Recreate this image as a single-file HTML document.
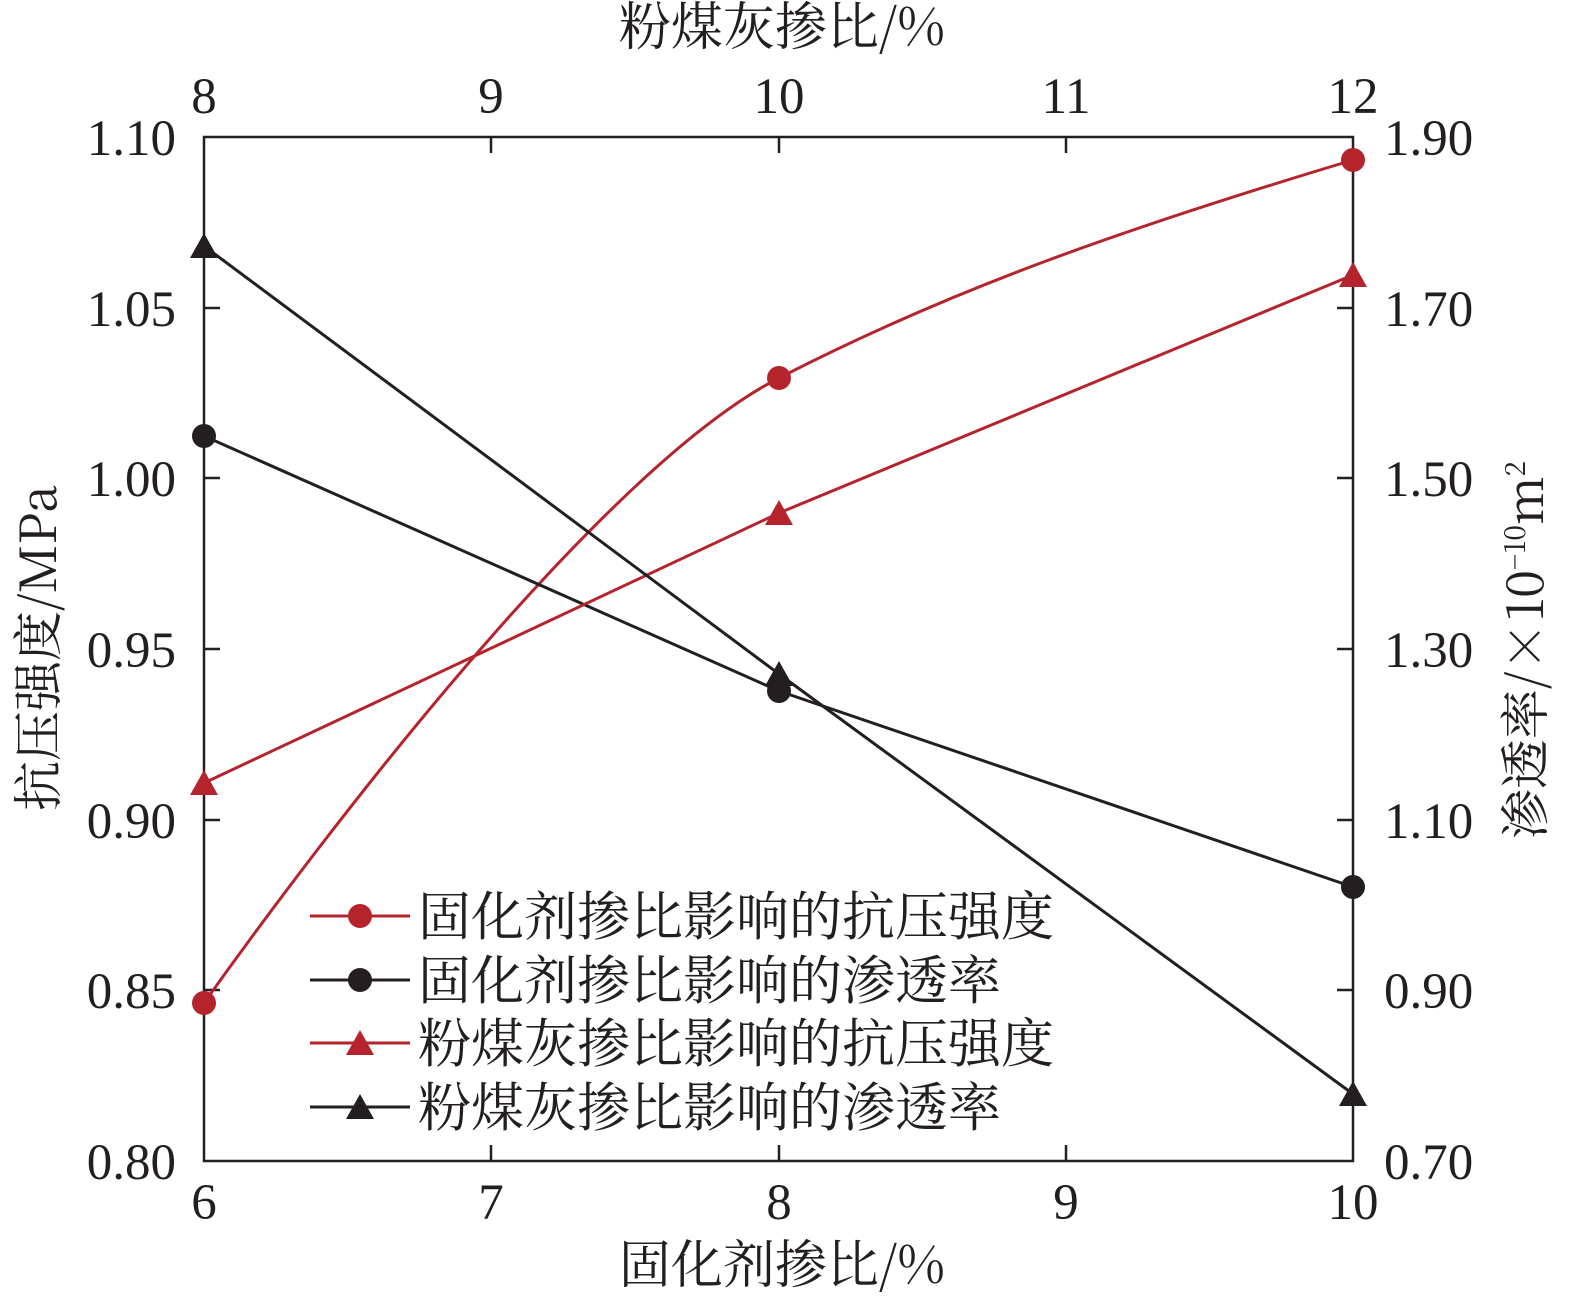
<!DOCTYPE html>
<html><head><meta charset="utf-8"><style>body{margin:0;background:#fff}</style></head>
<body>
<svg width="1575" height="1308" viewBox="0 0 1575 1308" xmlns="http://www.w3.org/2000/svg" font-family="Liberation Serif, Noto Serif CJK SC, serif" font-size="51" fill="#231f20">
<g stroke="#231f20" stroke-width="2.5" fill="none">
<rect x="204" y="137" width="1149" height="1024"/>
<path d="M491,1161v-16M779,1161v-16M1066,1161v-16M491,137v16M779,137v16M1066,137v16"/>
<path d="M204,308h16M204,478h16M204,649h16M204,820h16M204,990h16"/>
<path d="M1353,308h-16M1353,478h-16M1353,649h-16M1353,820h-16M1353,990h-16"/>
</g>
<g text-anchor="middle">
<text x="204" y="1219">6</text><text x="491" y="1219">7</text><text x="779" y="1219">8</text><text x="1066" y="1219">9</text><text x="1353" y="1219">10</text>
<text x="204" y="113">8</text><text x="491" y="113">9</text><text x="779" y="113">10</text><text x="1066" y="113">11</text><text x="1353" y="113">12</text>
<text x="782" y="1283" font-family="Noto Serif CJK SC, serif" font-size="52">固化剂掺比/%</text>
<text x="782" y="45" font-family="Noto Serif CJK SC, serif" font-size="52">粉煤灰掺比/%</text>
</g>
<g text-anchor="end">
<text x="176" y="1179">0.80</text><text x="176" y="1008">0.85</text><text x="176" y="838">0.90</text><text x="176" y="667">0.95</text><text x="176" y="496">1.00</text><text x="176" y="326">1.05</text><text x="176" y="155">1.10</text>
</g>
<g text-anchor="start">
<text x="1384" y="1179">0.70</text><text x="1384" y="1008">0.90</text><text x="1384" y="838">1.10</text><text x="1384" y="667">1.30</text><text x="1384" y="496">1.50</text><text x="1384" y="326">1.70</text><text x="1384" y="155">1.90</text>
</g>
<text transform="translate(56,648) rotate(-90)" text-anchor="middle" font-family="Noto Serif CJK SC, serif" font-size="50">抗压强度/MPa</text>
<text transform="translate(1543,650) rotate(-90)" text-anchor="middle" font-family="Noto Serif CJK SC, serif" font-size="50">渗透率/×10<tspan dy="-18" font-size="28">−10</tspan><tspan dy="18">m</tspan><tspan dy="-18" font-size="28">2</tspan></text>
<g fill="none" stroke-width="3">
<path d="M204,1003 C320,840 600,470 779,378 C950,290 1120,230 1353,160" stroke="#b5242d"/>
<polyline points="204,436 779,691 1353,887" stroke="#231f20"/>
<polyline points="204,783 779,513 1353,275" stroke="#b5242d"/>
<polyline points="204,246 779,674 1353,1094" stroke="#231f20"/>
</g>
<g fill="#b5242d"><circle cx="204" cy="1003" r="12"/><circle cx="779" cy="378" r="12"/><circle cx="1353" cy="160" r="12"/></g>
<g fill="#231f20"><circle cx="204" cy="436" r="12"/><circle cx="779" cy="691" r="12"/><circle cx="1353" cy="887" r="12"/></g>
<g fill="#b5242d"><path d="M204,770l-14,25h28z"/><path d="M779,500l-14,25h28z"/><path d="M1353,262l-14,25h28z"/></g>
<g fill="#231f20"><path d="M204,233l-14,25h28z"/><path d="M779,661l-14,25h28z"/><path d="M1353,1081l-14,25h28z"/></g>
<g stroke-width="3"><line x1="310" y1="916" x2="410" y2="916" stroke="#b5242d"/><line x1="310" y1="980" x2="410" y2="980" stroke="#231f20"/><line x1="310" y1="1043" x2="410" y2="1043" stroke="#b5242d"/><line x1="310" y1="1107" x2="410" y2="1107" stroke="#231f20"/></g>
<circle cx="360" cy="916" r="12" fill="#b5242d"/><circle cx="360" cy="980" r="12" fill="#231f20"/>
<path d="M360,1030l-14,25h28z" fill="#b5242d"/><path d="M360,1094l-14,25h28z" fill="#231f20"/>
<g font-family="Noto Serif CJK SC, serif" font-size="53">
<text x="418" y="935">固化剂掺比影响的抗压强度</text>
<text x="418" y="999">固化剂掺比影响的渗透率</text>
<text x="418" y="1062">粉煤灰掺比影响的抗压强度</text>
<text x="418" y="1126">粉煤灰掺比影响的渗透率</text>
</g>
</svg>
</body></html>
